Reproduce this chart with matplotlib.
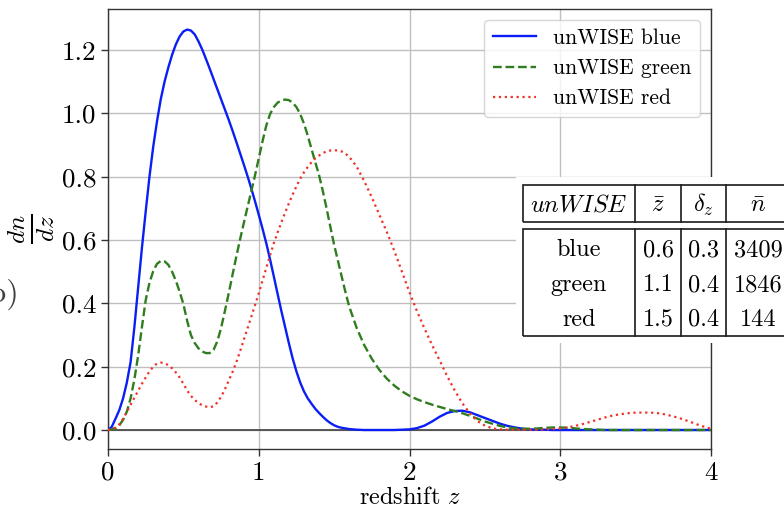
import matplotlib
matplotlib.use("Agg")
import matplotlib.pyplot as plt
from matplotlib.patches import Rectangle
from matplotlib.lines import Line2D

plt.rcParams["font.family"] = "serif"
plt.rcParams["font.serif"] = ["cmr10"]
plt.rcParams["mathtext.fontset"] = "cm"
plt.rcParams["axes.unicode_minus"] = False
plt.rcParams["axes.formatter.use_mathtext"] = True

# redshift sample points: fine steps up to z = 1.6, coarser beyond
z_fine = [0.000, 0.025, 0.050, 0.075, 0.100, 0.125, 0.150, 0.175, 0.200, 0.225,
          0.250, 0.275, 0.300, 0.325, 0.350, 0.375, 0.400, 0.425, 0.450, 0.475,
          0.500, 0.525, 0.550, 0.575, 0.600, 0.625, 0.650, 0.675, 0.700, 0.725,
          0.750, 0.775, 0.800, 0.825, 0.850, 0.875, 0.900, 0.925, 0.950, 0.975,
          1.000, 1.025, 1.050, 1.075, 1.100, 1.125, 1.150, 1.175, 1.200, 1.225,
          1.250, 1.275, 1.300, 1.325, 1.350, 1.375, 1.400, 1.425, 1.450, 1.475,
          1.500, 1.525, 1.550, 1.575, 1.600]
z_coarse = [1.65, 1.70, 1.75, 1.80, 1.85, 1.90, 1.95, 2.00, 2.05, 2.10,
            2.15, 2.20, 2.25, 2.30, 2.35, 2.40, 2.45, 2.50, 2.55, 2.60,
            2.65, 2.70, 2.75, 2.80, 2.85, 2.90, 2.95, 3.00, 3.05, 3.10,
            3.15, 3.20, 3.25, 3.30, 3.35, 3.40, 3.45, 3.50, 3.55, 3.60,
            3.65, 3.70, 3.75, 3.80, 3.85, 3.90, 3.95, 4.00]
z = z_fine + z_coarse

dndz_blue = [
    0.000, 0.010, 0.036, 0.063, 0.100, 0.150, 0.215, 0.325, 0.450, 0.575,
    0.690, 0.800, 0.895, 0.975, 1.045, 1.100, 1.145, 1.185, 1.218, 1.243,
    1.259, 1.265, 1.262, 1.250, 1.228, 1.202, 1.172, 1.141, 1.109, 1.077,
    1.045, 1.013, 0.981, 0.947, 0.912, 0.876, 0.840, 0.803, 0.764, 0.723,
    0.680, 0.636, 0.590, 0.539, 0.485, 0.430, 0.376, 0.325, 0.274, 0.226,
    0.185, 0.150, 0.122, 0.100, 0.083, 0.067, 0.054, 0.042, 0.031, 0.022,
    0.015, 0.010, 0.007, 0.005, 0.003,
    0.001, 0.000, 0.000, 0.000, 0.000, 0.000, 0.001, 0.002, 0.006, 0.014,
    0.027, 0.042, 0.054, 0.060, 0.061, 0.056, 0.047, 0.038, 0.029, 0.020,
    0.013, 0.008, 0.004, 0.002, 0.001, 0.001, 0.000, 0.000, 0.000, 0.000,
    0.000, 0.000, 0.000, 0.000, 0.000, 0.000, 0.000, 0.000, 0.000, 0.000,
    0.000, 0.000, 0.000, 0.000, 0.000, 0.000, 0.000, 0.000]

dndz_green = [
    0.000, 0.002, 0.006, 0.015, 0.032, 0.058, 0.100, 0.160, 0.235, 0.325,
    0.410, 0.465, 0.502, 0.525, 0.534, 0.533, 0.522, 0.500, 0.472, 0.437,
    0.398, 0.345, 0.300, 0.275, 0.258, 0.248, 0.243, 0.243, 0.253, 0.280,
    0.322, 0.375, 0.430, 0.488, 0.545, 0.600, 0.652, 0.703, 0.753, 0.804,
    0.858, 0.912, 0.962, 0.998, 1.020, 1.034, 1.041, 1.044, 1.042, 1.034,
    1.020, 0.998, 0.968, 0.930, 0.888, 0.846, 0.805, 0.755, 0.700, 0.642,
    0.585, 0.535, 0.485, 0.436, 0.390,
    0.322, 0.268, 0.225, 0.190, 0.162, 0.140, 0.122, 0.108, 0.097, 0.088,
    0.080, 0.073, 0.066, 0.060, 0.053, 0.045, 0.036, 0.027, 0.020, 0.013,
    0.008, 0.005, 0.004, 0.004, 0.005, 0.007, 0.008, 0.008, 0.007, 0.005,
    0.003, 0.002, 0.001, 0.000, 0.000, 0.000, 0.000, 0.000, 0.000, 0.000,
    0.000, 0.000, 0.000, 0.000, 0.000, 0.000, 0.000, 0.000]

dndz_red = [
    0.000, 0.002, 0.008, 0.018, 0.035, 0.057, 0.080, 0.102, 0.124, 0.146,
    0.166, 0.185, 0.200, 0.210, 0.213, 0.211, 0.205, 0.195, 0.182, 0.166,
    0.146, 0.125, 0.108, 0.095, 0.085, 0.078, 0.074, 0.072, 0.075, 0.087,
    0.105, 0.128, 0.155, 0.182, 0.212, 0.247, 0.284, 0.320, 0.357, 0.394,
    0.432, 0.472, 0.512, 0.552, 0.590, 0.624, 0.656, 0.687, 0.716, 0.744,
    0.770, 0.794, 0.814, 0.831, 0.846, 0.858, 0.867, 0.875, 0.880, 0.883,
    0.884, 0.883, 0.880, 0.873, 0.863,
    0.832, 0.786, 0.735, 0.680, 0.625, 0.565, 0.500, 0.435, 0.375, 0.320,
    0.268, 0.220, 0.170, 0.125, 0.085, 0.053, 0.028, 0.014, 0.005, 0.002,
    0.001, 0.001, 0.001, 0.001, 0.001, 0.002, 0.003, 0.005, 0.008, 0.013,
    0.019, 0.026, 0.033, 0.040, 0.046, 0.050, 0.053, 0.055, 0.055, 0.055,
    0.053, 0.049, 0.043, 0.036, 0.028, 0.019, 0.011, 0.004]

series_labels = ["unWISE blue", "unWISE green", "unWISE red"]

x_ticks = [0, 1, 2, 3, 4]
y_ticks = [0.0, 0.2, 0.4, 0.6, 0.8, 1.0, 1.2]

# summary table
table_header = [r"$unWISE$", r"$\bar{z}$", r"$\delta_z$", r"$\bar{n}$"]
sample_names = ["blue", "green", "red"]
z_mean = ["0.6", "1.1", "1.5"]
z_width = ["0.3", "0.4", "0.4"]
n_mean = ["3409", "1846", "144"]

W, H = 784, 508
fig = plt.figure(figsize=(W / 100, H / 100), dpi=100)
ax = fig.add_axes([108 / W, 1 - 449 / H, (711 - 108) / W, (449 - 9) / H])

ax.plot(z, dndz_blue, color="#0a1ef5", lw=1.7, ls="-", label=series_labels[0], zorder=3)
ax.plot(z, dndz_green, color="#2f7d1f", lw=1.7, ls="--", label=series_labels[1], zorder=3)
ax.plot(z, dndz_red, color="#f0322a", lw=1.6, ls=":", label=series_labels[2], zorder=3)
ax.axhline(0.0, color="0.25", lw=1.2, zorder=2)

ax.set_xlim(0, 4)
ax.set_ylim(-0.06, 1.33)
ax.set_xticks(x_ticks)
ax.set_xticklabels([str(t) for t in x_ticks])
ax.set_yticks(y_ticks)
ax.set_yticklabels([f"{t:.1f}" for t in y_ticks])
ax.tick_params(labelsize=19.5, length=5, width=1.0, color="0.2")
ax.grid(True, color="0.75", lw=1.0, zorder=0)
ax.set_axisbelow(True)
for sp in ax.spines.values():
    sp.set_color("0.2")
    sp.set_linewidth(1.0)

ax.set_xlabel(r"redshift $z$", fontsize=17.5, labelpad=2)
ax.set_ylabel(r"$\frac{dn}{dz}$", fontsize=26)
ax.yaxis.set_label_coords(-0.085, 0.5)

ax.legend(loc="upper right", fontsize=15.5, framealpha=0.8, edgecolor="0.8",
          handlelength=2.0)


def fx(x):
    return x / W


def fy(y):
    return 1 - y / H


def box(x0, y0, x1, y1, **kw):
    r = Rectangle((fx(x0), fy(y1)), fx(x1) - fx(x0), fy(y0) - fy(y1),
                  transform=fig.transFigure, **kw)
    fig.add_artist(r)


def vline(x, y0, y1):
    fig.add_artist(Line2D([fx(x), fx(x)], [fy(y0), fy(y1)], color="0.1",
                          lw=1.2, transform=fig.transFigure, zorder=6))


# table background and frames
box(516, 177, 800, 343, facecolor="white", edgecolor="none", zorder=5)
box(523, 185, 800, 222, facecolor="none", edgecolor="0.1", lw=1.2, zorder=6)
box(523, 229, 800, 336, facecolor="none", edgecolor="0.1", lw=1.2, zorder=6)
col_edges = [635, 681, 726]
for cx in col_edges:
    vline(cx, 185, 222)
    vline(cx, 229, 336)

col_centers = [579, 658, 703.5, 758]
tfs = 17.5
for cx, txt in zip(col_centers, table_header):
    fig.text(fx(cx), fy(212), txt, ha="center", va="baseline", fontsize=tfs, zorder=7)
row_base = [256.5, 291, 325.5]
for i, yb in enumerate(row_base):
    row = [sample_names[i], z_mean[i], z_width[i], n_mean[i]]
    for cx, txt in zip(col_centers, row):
        fig.text(fx(cx), fy(yb), txt, ha="center", va="baseline", fontsize=tfs, zorder=7)

# panel tag partly outside the left edge
fig.text(fx(20), fy(294), "(b)", ha="right", va="center", fontsize=23, color="0.25")

fig.savefig("out.png", dpi=100)
